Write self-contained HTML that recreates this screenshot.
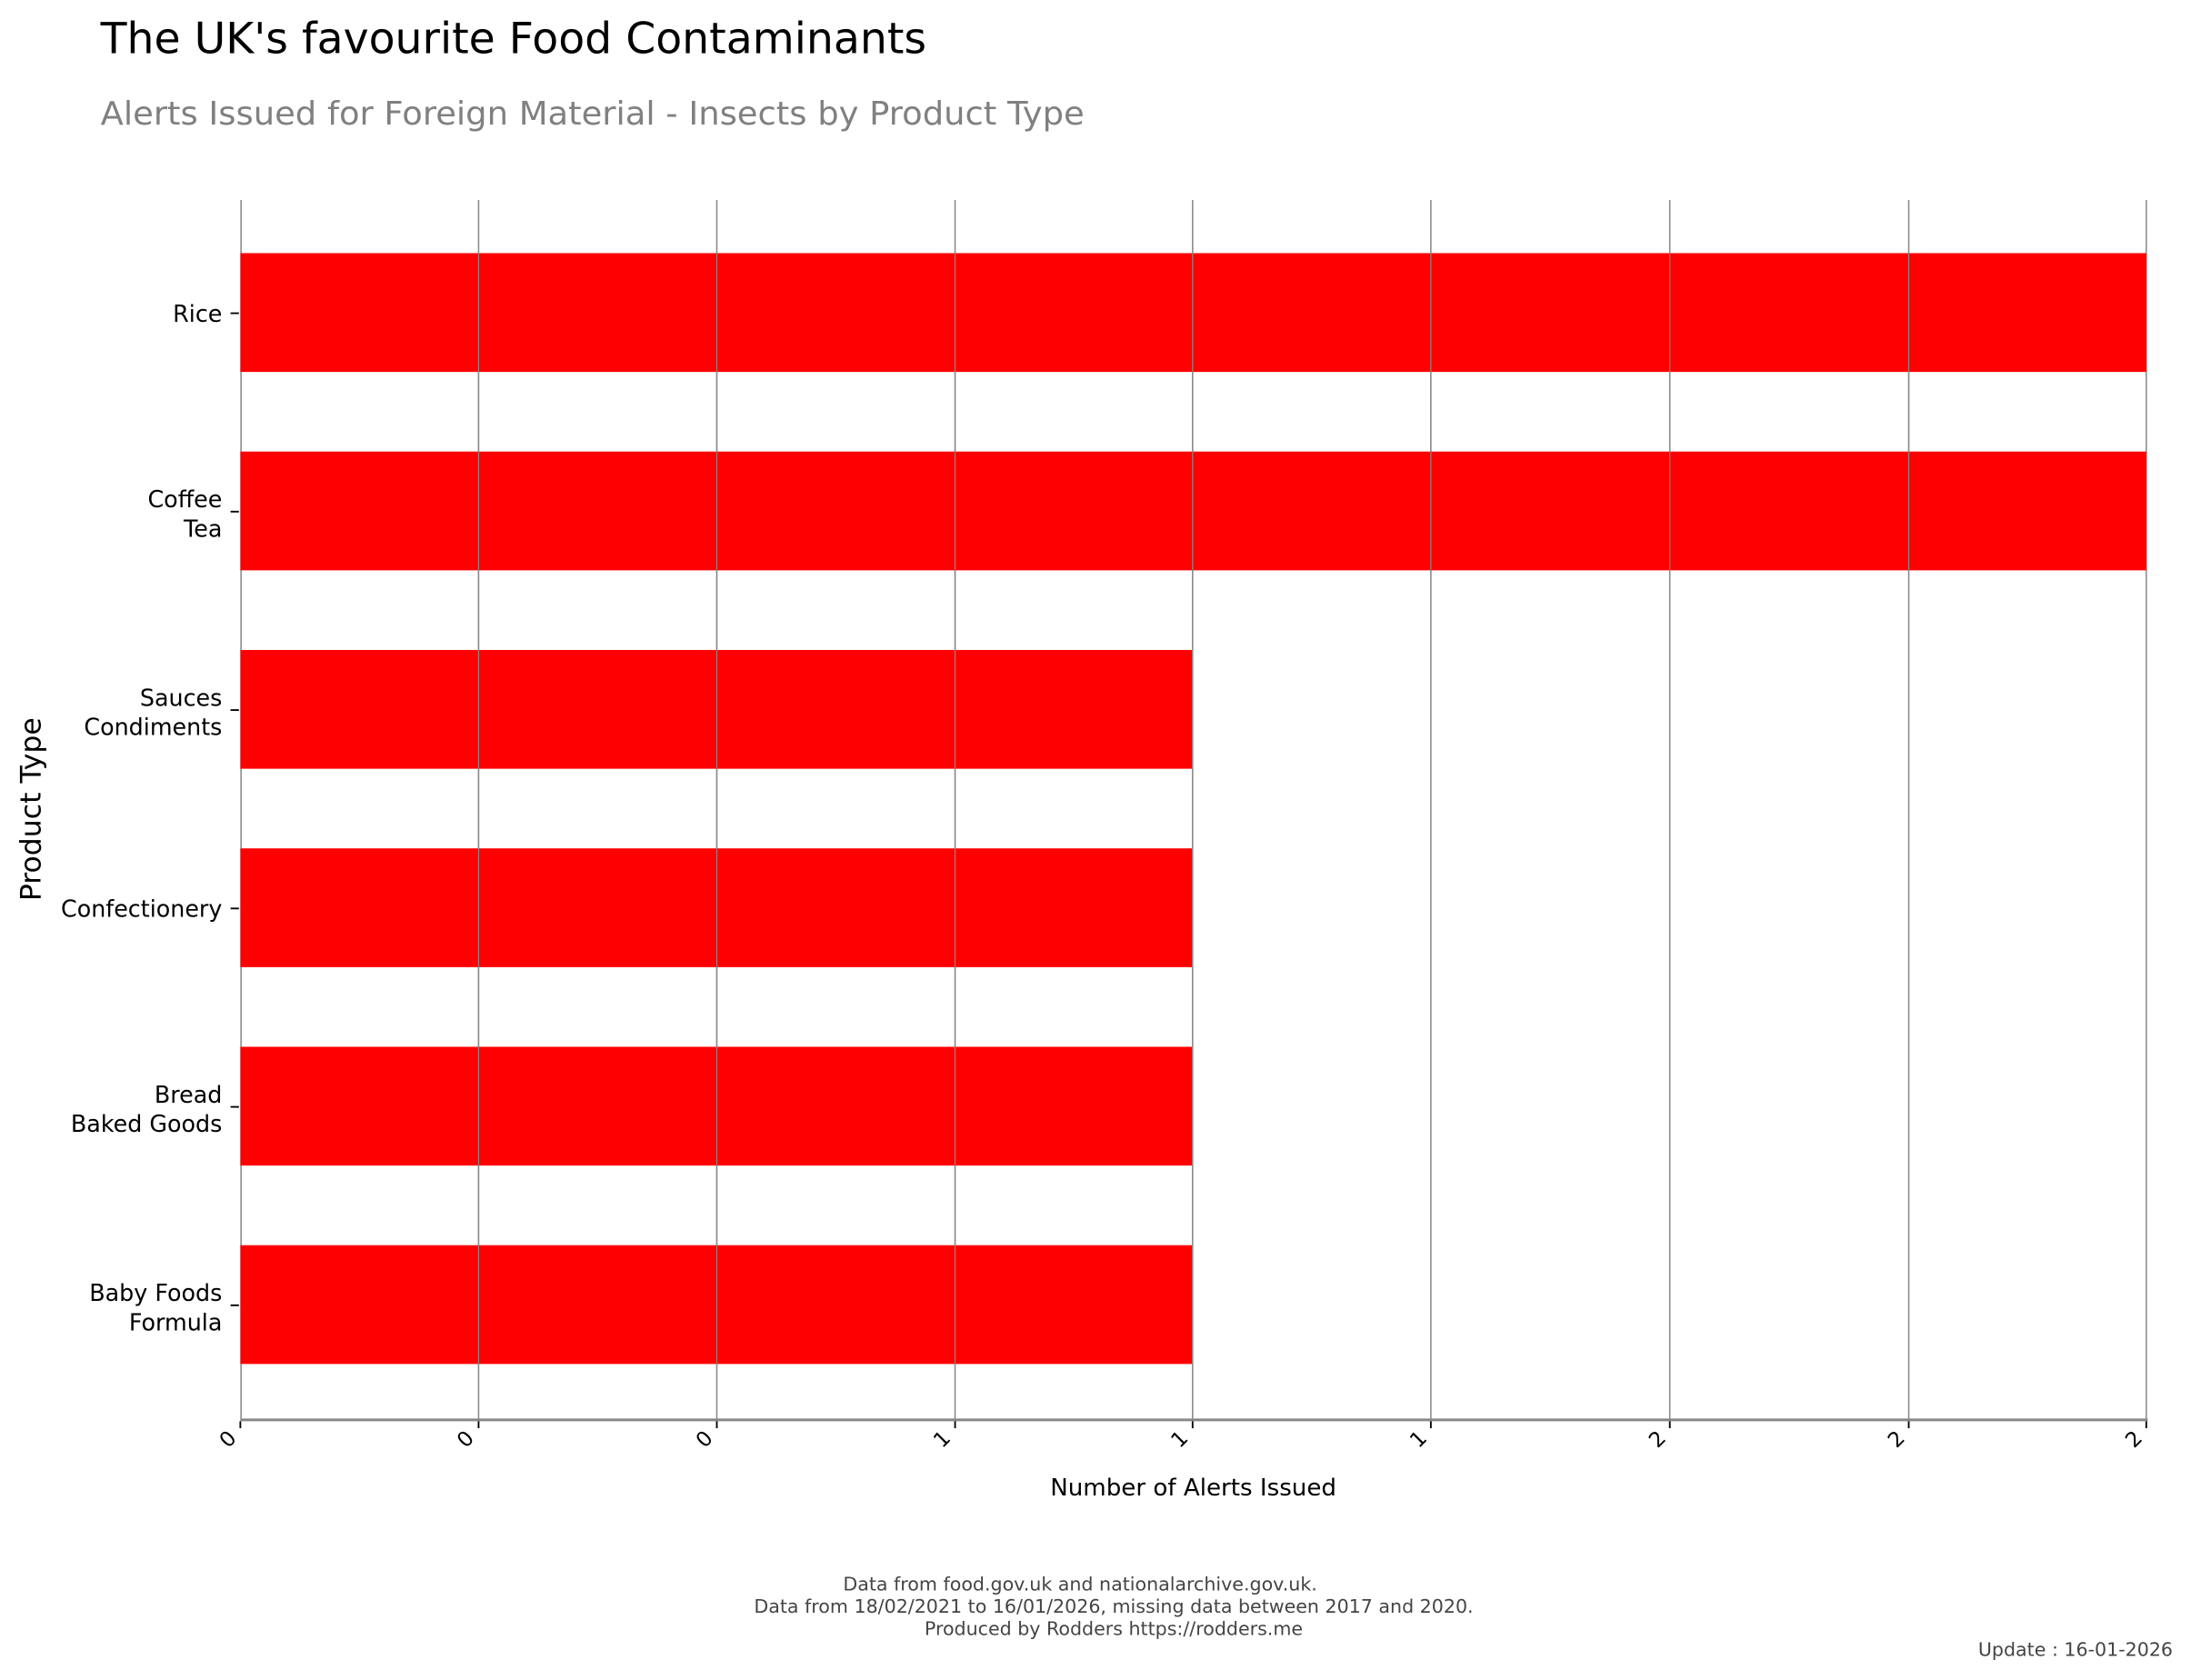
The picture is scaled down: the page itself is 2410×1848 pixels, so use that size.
<!DOCTYPE html>
<html><head><meta charset="utf-8"><style>
html,body{margin:0;padding:0;background:#fff;}
svg{display:block;}
text{font-family:"DejaVu Sans","Liberation Sans",sans-serif;}
</style></head><body>
<svg width="2410" height="1848" viewBox="0 0 1568 1202" xmlns="http://www.w3.org/2000/svg">
<rect width="1568" height="1202" fill="#fff"/>
<text x="72" y="38" font-size="31" fill="#000" textLength="591" lengthAdjust="spacingAndGlyphs">The UK's favourite Food Contaminants</text>
<text x="72" y="89" font-size="23" fill="#808080" textLength="704" lengthAdjust="spacingAndGlyphs">Alerts Issued for Foreign Material - Insects by Product Type</text>
<g stroke="#888" stroke-width="1">
<line x1="172.5" y1="143" x2="172.5" y2="1016"/>
<line x1="342.5" y1="143" x2="342.5" y2="1016"/>
<line x1="513" y1="143" x2="513" y2="1016"/>
<line x1="683.5" y1="143" x2="683.5" y2="1016"/>
<line x1="853.5" y1="143" x2="853.5" y2="1016"/>
<line x1="1024" y1="143" x2="1024" y2="1016"/>
<line x1="1195" y1="143" x2="1195" y2="1016"/>
<line x1="1366" y1="143" x2="1366" y2="1016"/>
<line x1="1536" y1="143" x2="1536" y2="1016"/>
</g>
<g fill="#ff0000">
<rect x="172" y="181" width="1364" height="85"/>
<rect x="172" y="323" width="1364" height="85"/>
<rect x="172" y="465" width="681" height="85"/>
<rect x="172" y="607" width="681" height="85"/>
<rect x="172" y="749" width="681" height="85"/>
<rect x="172" y="891" width="681" height="85"/>
</g>
<g stroke="#888" stroke-width="0.8">
<line x1="342.5" y1="181" x2="342.5" y2="976"/>
<line x1="513" y1="181" x2="513" y2="976"/>
<line x1="683.5" y1="181" x2="683.5" y2="976"/>
<line x1="853.5" y1="181" x2="853.5" y2="976"/>
<line x1="1024" y1="181" x2="1024" y2="408"/>
<line x1="1195" y1="181" x2="1195" y2="408"/>
<line x1="1366" y1="181" x2="1366" y2="408"/>
</g>
<line x1="172" y1="1016" x2="1537" y2="1016" stroke="#888" stroke-width="2"/>
<g stroke="#000" stroke-width="1.2">
<line x1="172" y1="1017" x2="172" y2="1022"/>
<line x1="342.5" y1="1017" x2="342.5" y2="1022"/>
<line x1="513" y1="1017" x2="513" y2="1022"/>
<line x1="683.5" y1="1017" x2="683.5" y2="1022"/>
<line x1="853.5" y1="1017" x2="853.5" y2="1022"/>
<line x1="1024" y1="1017" x2="1024" y2="1022"/>
<line x1="1195" y1="1017" x2="1195" y2="1022"/>
<line x1="1366" y1="1017" x2="1366" y2="1022"/>
<line x1="1536" y1="1017" x2="1536" y2="1022"/>
<line x1="165" y1="224" x2="171" y2="224"/>
<line x1="165" y1="366" x2="171" y2="366"/>
<line x1="165" y1="508" x2="171" y2="508"/>
<line x1="165" y1="650" x2="171" y2="650"/>
<line x1="165" y1="792" x2="171" y2="792"/>
<line x1="165" y1="934" x2="171" y2="934"/>
</g>
<g font-size="16.5" fill="#000" text-anchor="end">
<text x="159" y="230">Rice</text>
<text x="159" y="363">Coffee</text><text x="159" y="384">Tea</text>
<text x="159" y="505">Sauces</text><text x="159" y="526">Condiments</text>
<text x="159" y="656">Confectionery</text>
<text x="159" y="789">Bread</text><text x="159" y="810">Baked Goods</text>
<text x="159" y="931">Baby Foods</text><text x="159" y="952">Formula</text>
</g>
<g font-size="15" fill="#000" text-anchor="end">
<text transform="translate(170,1030) rotate(-45)">0</text>
<text transform="translate(340,1030) rotate(-45)">0</text>
<text transform="translate(511,1030) rotate(-45)">0</text>
<text transform="translate(681,1030) rotate(-45)">1</text>
<text transform="translate(851,1030) rotate(-45)">1</text>
<text transform="translate(1022,1030) rotate(-45)">1</text>
<text transform="translate(1193,1030) rotate(-45)">2</text>
<text transform="translate(1364,1030) rotate(-45)">2</text>
<text transform="translate(1534,1030) rotate(-45)">2</text>
</g>
<text x="854" y="1070" font-size="17" text-anchor="middle" fill="#000">Number of Alerts Issued</text>
<text transform="translate(29,579) rotate(-90)" font-size="20.5" text-anchor="middle" fill="#000">Product Type</text>
<g font-size="13.4" fill="#444" text-anchor="middle">
<text x="773" y="1138">Data from food.gov.uk and nationalarchive.gov.uk.</text>
<text x="797" y="1154">Data from 18/02/2021 to 16/01/2026, missing data between 2017 and 2020.</text>
<text x="797" y="1170">Produced by Rodders https://rodders.me</text>
</g>
<text x="1555" y="1185" font-size="13.4" fill="#444" text-anchor="end">Update : 16-01-2026</text>
</svg>
</body></html>
